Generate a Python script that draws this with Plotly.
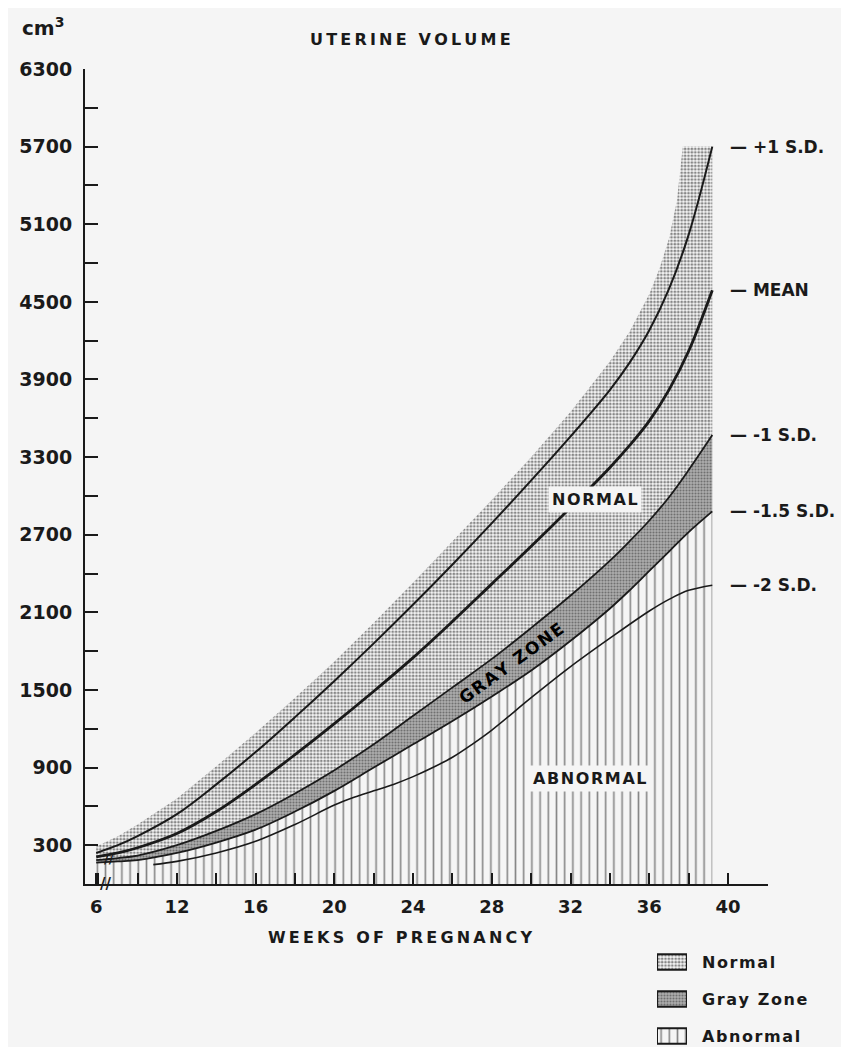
import plotly.graph_objects as go

# ---------------- data ----------------
weeks = [7.9, 9, 10, 12, 14, 16, 18, 20, 22, 24, 26, 28, 30, 32, 34, 35, 36, 37, 38, 39.2]
plus1_sd = [240, 300, 370, 540, 770, 1020, 1290, 1570, 1860, 2160, 2470, 2790, 3120, 3460,
            3820, 4030, 4280, 4600, 5020, 5700]
mean_vol = [210, 240, 280, 390, 560, 770, 1000, 1240, 1490, 1750, 2030, 2320, 2610, 2910,
            3220, 3390, 3580, 3820, 4120, 4590]
minus1_sd = [185, 200, 220, 300, 410, 540, 700, 880, 1080, 1300, 1520, 1740, 1980, 2230,
             2500, 2650, 2810, 2990, 3200, 3470]
minus15_sd = [165, 175, 185, 240, 320, 420, 560, 720, 900, 1080, 1260, 1450, 1650, 1880,
              2130, 2270, 2420, 2570, 2720, 2880]

normal_top_weeks = [7.9, 9, 10, 12, 14, 16, 18, 20, 22, 24, 26, 28, 30, 32, 34, 35, 36,
                    36.5, 37, 37.4, 37.7, 39.2]
normal_top = [290, 370, 460, 660, 910, 1170, 1440, 1720, 2020, 2330, 2650, 2970, 3300, 3650,
              4040, 4270, 4560, 4750, 4990, 5280, 5700, 5700]

minus2_weeks = [10.8, 12, 14, 16, 18, 20, 21, 22, 23, 24, 25, 26, 27, 28, 30, 32, 34, 36,
                37, 38, 39.2]
minus2_sd = [150, 175, 240, 330, 460, 610, 670, 720, 770, 830, 900, 980, 1080, 1190, 1440,
             1680, 1900, 2110, 2200, 2270, 2310]

x_tick_vals = [7.9, 12, 16, 20, 24, 28, 32, 36, 40]
x_tick_text = ["6", "12", "16", "20", "24", "28", "32", "36", "40"]
y_tick_vals = [300, 900, 1500, 2100, 2700, 3300, 3900, 4500, 5100, 5700, 6300]
y_tick_text = [str(v) for v in y_tick_vals]

sd_labels = ["+1 S.D.", "MEAN", "-1 S.D.", "-1.5 S.D.", "-2 S.D."]
legend_names = ["Normal", "Gray Zone", "Abnormal"]

# ---------------- layout constants ----------------
OFF = 8                                   # page body margin of the browser
W, H = 849 - OFF, 1047 - OFF
PL, PR, PT, PB = 85, 768, 69, 884         # plot-area edges in window pixels
FONT = "DejaVu Sans"
INK = "#1a1a1a"
BG = "#f5f5f5"


def track(s, sp="\u2009"):
    return sp.join(list(s))


def fx(p):
    return (p - OFF) / W


def fy(p):
    return 1 - (p - OFF) / H


def bfont(size, color=INK):
    return dict(family=FONT, size=size, color=color, weight=700)


hatch = dict(shape="|", size=8.2, solidity=0.2, fgcolor="#1a1a1a", bgcolor=BG)
stipple = dict(shape=".", size=3.4, solidity=0.5, fgcolor="#1a1a1a", bgcolor=BG)
grayzone = dict(shape=".", size=3.0, solidity=0.38, fgcolor="#333333", bgcolor="#adadad")

fig = go.Figure()

# filled regions
fig.add_trace(go.Scatter(x=weeks, y=minus15_sd, mode="lines",
                         line=dict(width=0, shape="spline"), fill="tozeroy",
                         fillcolor=BG, fillpattern=hatch, hoverinfo="skip", showlegend=False))
fig.add_trace(go.Scatter(x=weeks, y=minus1_sd, mode="lines",
                         line=dict(width=0, shape="spline"), fill="tonexty",
                         fillcolor="#adadad", fillpattern=grayzone, hoverinfo="skip",
                         showlegend=False))
fig.add_trace(go.Scatter(x=normal_top_weeks, y=normal_top, mode="lines",
                         line=dict(width=0), fill="tonexty",
                         fillcolor=BG, fillpattern=stipple, hoverinfo="skip",
                         showlegend=False))

# curves
for ys, lw in [(plus1_sd, 2.0), (mean_vol, 2.8), (minus1_sd, 1.8), (minus15_sd, 1.8)]:
    fig.add_trace(go.Scatter(x=weeks, y=ys, mode="lines",
                             line=dict(color=INK, width=lw, shape="spline"),
                             hoverinfo="skip", showlegend=False))
fig.add_trace(go.Scatter(x=minus2_weeks, y=minus2_sd, mode="lines",
                         line=dict(color=INK, width=1.6, shape="spline"),
                         hoverinfo="skip", showlegend=False))

# legend swatches (bars on a small hidden axis pair)
for i, (name, pat) in enumerate(zip(legend_names, [stipple, grayzone, hatch])):
    fig.add_trace(go.Bar(x=[1], y=[i], base=0, orientation="h", width=0.42,
                         marker=dict(color=pat["bgcolor"], pattern=pat,
                                     line=dict(color=INK, width=2)),
                         xaxis="x2", yaxis="y2", hoverinfo="skip", showlegend=False))

annotations = []
annotations.append(dict(x=fx(20), y=fy(27), xref="paper", yref="paper", xanchor="left",
                        yanchor="middle", showarrow=False, text="cm<sup>3</sup>",
                        font=bfont(20)))
annotations.append(dict(x=fx(410), y=fy(39), xref="paper", yref="paper", xanchor="center",
                        yanchor="middle", showarrow=False, text=track("UTERINE VOLUME"),
                        font=bfont(16)))
annotations.append(dict(x=fx(400), y=fy(937), xref="paper", yref="paper", xanchor="center",
                        yanchor="middle", showarrow=False, text=track("WEEKS OF PREGNANCY"),
                        font=bfont(16)))

# SD labels at the curve ends
for lab, ys in zip(sd_labels, [plus1_sd, mean_vol, minus1_sd, minus15_sd, minus2_sd]):
    annotations.append(dict(x=40, y=ys[-1], xref="x", yref="y", xanchor="left",
                            yanchor="middle", showarrow=False,
                            text="\u2014 " + lab, font=bfont(17)))

# region labels
annotations.append(dict(x=33.24, y=2975, xref="x", yref="y", showarrow=False,
                        text=track("NORMAL", "\u200a"), bgcolor=BG, borderpad=3,
                        font=bfont(16)))
annotations.append(dict(x=33.0, y=819, xref="x", yref="y", showarrow=False,
                        text=track("ABNORMAL", "\u200a"), bgcolor=BG, borderpad=3,
                        font=bfont(16)))
annotations.append(dict(x=29.0, y=1708, xref="x", yref="y", showarrow=False,
                        text=track("GRAY ZONE", "\u200a"), textangle=-36,
                        font=bfont(17, "#000")))

# axis break marks
annotations.append(dict(x=8.35, y=0, xref="x", yref="y", showarrow=False, text="//",
                        font=bfont(15)))
annotations.append(dict(x=8.55, y=200, xref="x", yref="y", showarrow=False, text="//",
                        font=bfont(13)))

# legend text
for i, name in enumerate(legend_names):
    annotations.append(dict(x=fx(700), y=fy(962 + 37 * i), xref="paper", yref="paper",
                            xanchor="left", yanchor="middle", showarrow=False,
                            text=track(name, "\u200a"), font=bfont(16)))

fig.update_layout(
    width=W, height=H,
    margin=dict(l=0, r=0, t=0, b=0),
    paper_bgcolor=BG, plot_bgcolor=BG,
    showlegend=False,
    barmode="overlay",
    xaxis=dict(domain=[fx(PL), fx(PR)], range=[7.33, 42.03], anchor="y",
               showline=True, linecolor=INK, linewidth=2, mirror=False,
               showgrid=False, zeroline=False,
               tickmode="array", tickvals=x_tick_vals, ticktext=x_tick_text,
               ticks="inside", ticklen=11, tickwidth=2, tickcolor=INK,
               ticklabelstandoff=5,
               tickfont=bfont(18),
               minor=dict(ticks="inside", ticklen=11, tickwidth=2, tickcolor=INK,
                          dtick=2, tick0=0),
               automargin=False, fixedrange=True),
    yaxis=dict(domain=[fy(PB), fy(PT)], range=[0, 6300], anchor="x",
               showline=True, linecolor=INK, linewidth=2,
               showgrid=False, zeroline=False,
               tickmode="array", tickvals=y_tick_vals, ticktext=y_tick_text,
               ticks="inside", ticklen=13, tickwidth=2, tickcolor=INK,
               ticklabelstandoff=7,
               tickfont=bfont(19),
               minor=dict(ticks="inside", ticklen=13, tickwidth=2, tickcolor=INK,
                          dtick=300, tick0=0),
               automargin=False, fixedrange=True),
    xaxis2=dict(domain=[fx(657), fx(687)], range=[0, 1], anchor="y2", visible=False,
                fixedrange=True),
    yaxis2=dict(domain=[0, fy(940)], range=[(1047 - 962) / 37, (940 - 962) / 37],
                anchor="x2", visible=False, fixedrange=True),
    annotations=annotations,
)

fig.write_html("out.html")
